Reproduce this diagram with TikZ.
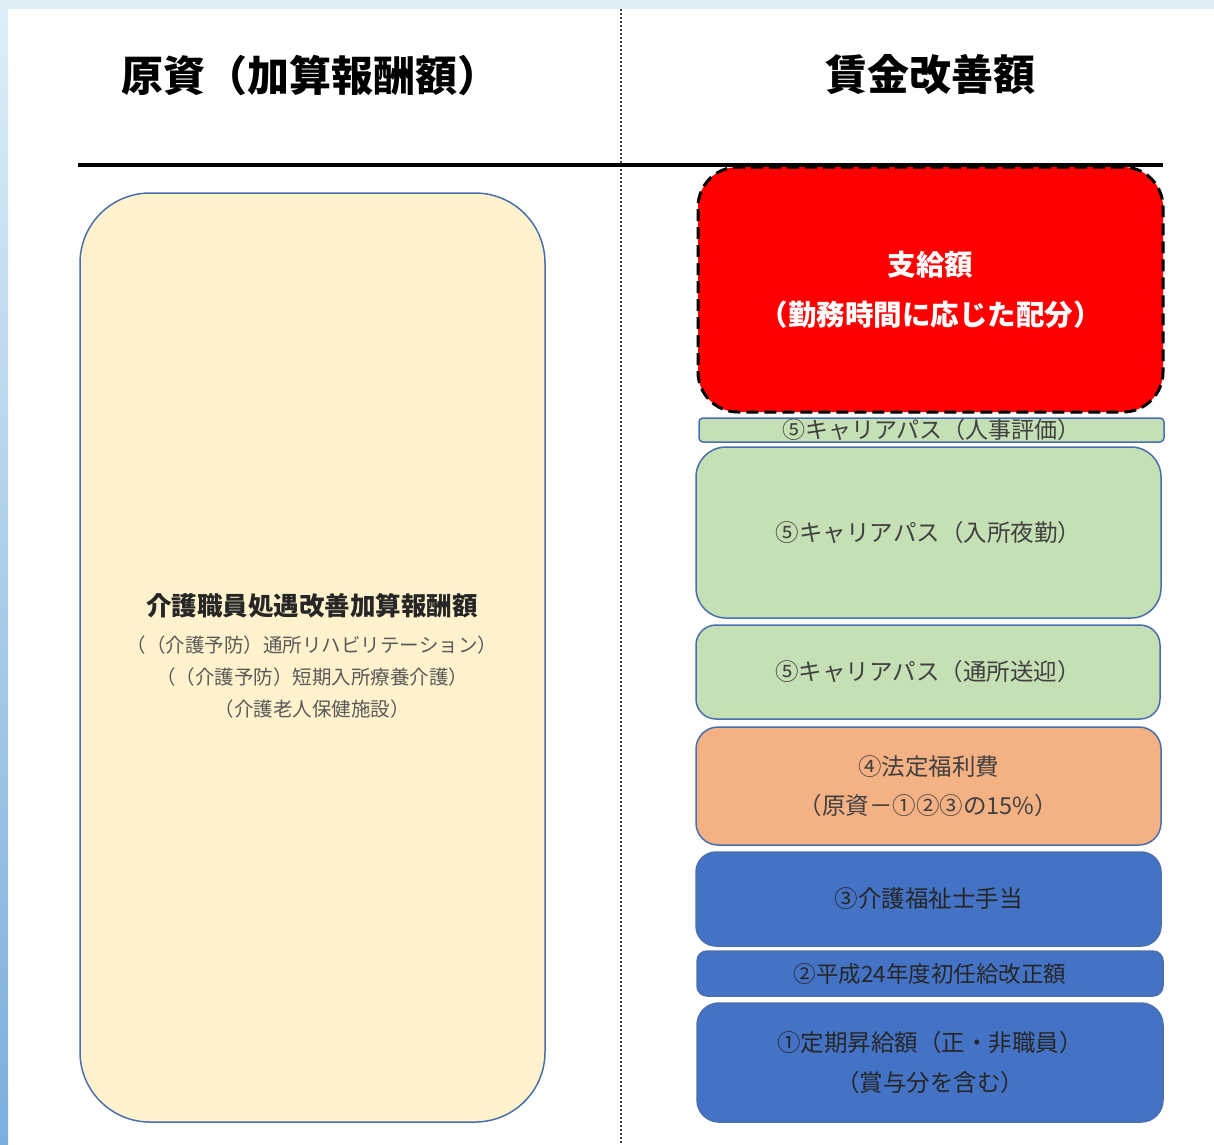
\documentclass[tikz,border=0pt]{standalone}
\usepackage{fontspec}
\setmainfont{Noto Sans CJK JP}
\definecolor{bandc}{HTML}{DDEEF7}
\definecolor{stripbot}{HTML}{7BAEDC}
\definecolor{creamc}{HTML}{FFF2CC}
\definecolor{greenc}{HTML}{C5E0B4}
\definecolor{orangec}{HTML}{F4B183}
\definecolor{bluec}{HTML}{4472C4}
\definecolor{edgec}{HTML}{4A6FAE}
\definecolor{labc}{HTML}{404040}
\definecolor{greyc}{HTML}{595959}
\begin{document}
\begin{tikzpicture}[x=1pt,y=-1pt,
  blk/.style={rectangle,draw=edgec,line width=1.5pt,inner sep=0pt,outer sep=0pt,align=center,text=labc,
    font=\fontsize{23.5}{39}\selectfont},
  ttl/.style={inner sep=0pt,font=\fontsize{42}{46}\selectfont\bfseries,text=black},
  lefttxt/.style={inner sep=0pt,text=greyc,font=\fontsize{19.5}{22}\selectfont}]
\useasboundingbox (0,0) rectangle (1214,1144);
\fill[white] (0,0) rectangle (1214,1144);
\shade[top color=bandc,bottom color=stripbot] (0,0) rectangle (8,1144);
\fill[bandc] (8,0) rectangle (1214,9);
% titles
\node[ttl] (t1) at (310,75) {原資（加算報酬額）};
\node[ttl] (t2) at (930.5,75) {賃金改善額};
% separators
\draw[labc,line width=1.5pt,dash pattern=on 2pt off 2pt] (621,9) -- (621,1144);
\draw[black,line width=4pt] (78,165) -- (1163,165);
% left box
\node[blk,fill=creamc,rounded corners=70,minimum width=465,minimum height=929] (src) at (312.5,657.5) {};
\node[inner sep=0pt,text=black!85,font=\fontsize{25.5}{28}\selectfont\bfseries] (s1) at (312,606) {介護職員処遇改善加算報酬額};
\node[lefttxt] (s2) at (312,645) {（（介護予防）通所リハビリテーション）};
\node[lefttxt] (s3) at (312,677) {（（介護予防）短期入所療養介護）};
\node[lefttxt] (s4) at (312,709) {（介護老人保健施設）};
% right stack
\node[blk,fill=red,draw=black,line width=3pt,dash pattern=on 12pt off 6pt,rounded corners=40,
  minimum width=465,minimum height=245,text=white,font=\fontsize{28.5}{50}\selectfont\bfseries] (pay) at (930.5,289.5)
  {支給額\\（勤務時間に応じた配分）};
\node[blk,fill=greenc,rounded corners=4,minimum width=465,minimum height=24,font=\fontsize{23}{26}\selectfont] (c5a) at (931.5,430) {⑤キャリアパス（人事評価）};
\node[blk,fill=greenc,rounded corners=30,minimum width=465,minimum height=171] (c5b) at (928.5,532.5) {⑤キャリアパス（入所夜勤）};
\node[blk,fill=greenc,rounded corners=20,minimum width=464,minimum height=94] (c5c) at (928,672) {⑤キャリアパス（通所送迎）};
\node[blk,fill=orangec,rounded corners=22,minimum width=465,minimum height=118] (c4) at (928.5,786) {④法定福利費\\（原資－①②③の15\%）};
\node[blk,fill=bluec,rounded corners=20,minimum width=465,minimum height=94,text=black!85] (c3) at (928.5,899) {③介護福祉士手当};
\node[blk,fill=bluec,rounded corners=10,minimum width=466,minimum height=45,text=black!85,font=\fontsize{22.5}{26}\selectfont] (c2) at (930,973.5) {②平成24年度初任給改正額};
\node[blk,fill=bluec,rounded corners=22,minimum width=466,minimum height=119,text=black!85,font=\fontsize{23.5}{40}\selectfont] (c1) at (930,1062.5) {①定期昇給額（正・非職員）\\（賞与分を含む）};
\end{tikzpicture}
\end{document}
